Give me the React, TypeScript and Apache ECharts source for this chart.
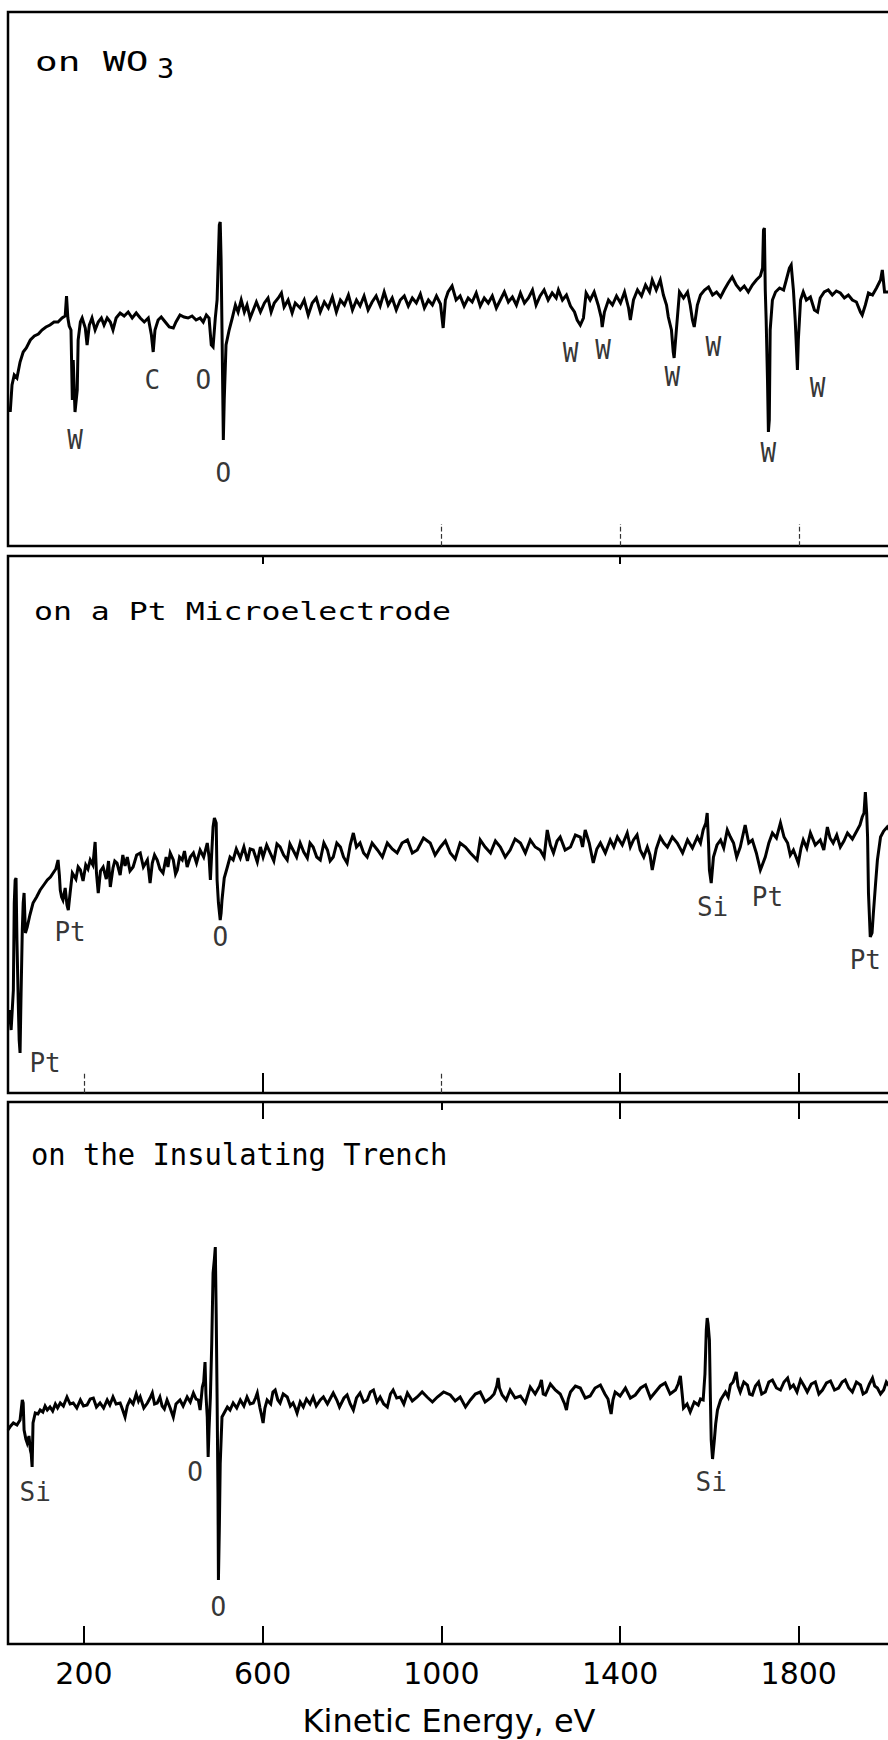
import { useEffect, useRef } from "react";
import * as echarts from "echarts";

// ---------- axis ----------
const energyTicks = [200, 600, 1000, 1400, 1800];
const energyMin = 30;
const energyMax = 2040;
const axisTitle = "Kinetic Energy, eV";

// ---------- panel titles ----------
const titleWO3 = "on WO";
const titleWO3Sub = "3";
const titlePt = "on a Pt Microelectrode";
const titleTrench = "on the Insulating Trench";

// ---------- spectra: [kinetic energy (eV), dN/dE (arb. units)] ----------
const wo3Spectrum: [number, number][] = [
  [35,134],[39,161],[44,171],[50,168],[57,184],[64,194],[71,198],[80,206],[89,210],[98,212],[106,216],[115,219],[124,221],[133,224],[142,224],[151,228],[158,230],[161,250],[164,228],[167,220],[171,216],[174,146],[176,186],[180,134],[185,156],[187,206],[192,224],[196,228],[203,218],[207,201],[212,221],[218,228],[225,216],[232,224],[239,228],[245,221],[252,228],[259,224],[265,216],[272,228],[281,233],[290,230],[299,234],[308,228],[317,233],[326,228],[335,224],[344,228],[351,211],[355,194],[359,216],[366,226],[373,229],[382,224],[391,219],[400,218],[406,224],[415,231],[424,229],[433,228],[442,230],[451,226],[460,228],[467,224],[474,231],[480,228],[485,201],[489,199],[494,228],[498,246],[503,321],[505,324],[507,286],[509,216],[512,106],[514,146],[518,201],[525,216],[532,228],[539,241],[545,234],[552,246],[559,234],[565,241],[572,228],[579,236],[586,244],[595,234],[604,243],[612,248],[619,234],[626,243],[635,248],[642,253],[648,239],[657,246],[666,233],[673,243],[684,238],[693,246],[702,231],[711,243],[720,248],[729,234],[738,244],[747,238],[756,249],[765,234],[774,246],[783,241],[792,251],[801,236],[810,246],[818,240],[827,250],[836,236],[845,244],[854,250],[863,240],[872,254],[881,241],[890,248],[899,236],[908,246],[917,250],[926,240],[935,248],[944,243],[953,252],[962,238],[971,246],[980,241],[989,250],[998,242],[1004,218],[1009,246],[1015,254],[1024,260],[1033,246],[1042,250],[1051,240],[1060,248],[1069,244],[1078,253],[1087,240],[1096,248],[1105,243],[1114,250],[1123,238],[1132,246],[1141,254],[1150,244],[1159,249],[1168,241],[1177,253],[1186,243],[1195,248],[1204,256],[1212,241],[1221,250],[1230,256],[1239,246],[1248,253],[1257,248],[1262,256],[1271,246],[1280,251],[1289,240],[1298,234],[1304,226],[1311,221],[1318,228],[1324,253],[1333,246],[1342,254],[1351,241],[1358,228],[1360,219],[1365,234],[1374,246],[1383,241],[1392,250],[1401,243],[1410,254],[1419,238],[1423,226],[1430,246],[1439,256],[1448,250],[1457,261],[1466,254],[1472,266],[1481,256],[1490,266],[1497,251],[1504,241],[1508,229],[1515,216],[1519,194],[1521,188],[1526,216],[1533,254],[1542,248],[1551,254],[1557,241],[1562,226],[1566,219],[1573,241],[1580,251],[1589,256],[1598,259],[1607,251],[1616,254],[1625,249],[1633,256],[1642,263],[1651,269],[1660,261],[1669,256],[1678,260],[1687,254],[1696,261],[1705,266],[1714,270],[1719,278],[1721,316],[1723,318],[1725,256],[1727,226],[1730,166],[1732,114],[1734,126],[1736,216],[1741,246],[1748,254],[1757,258],[1766,256],[1772,266],[1779,278],[1783,281],[1788,256],[1792,226],[1797,176],[1799,206],[1804,246],[1810,254],[1817,246],[1826,249],[1835,236],[1842,234],[1848,248],[1857,254],[1866,256],[1875,251],[1884,255],[1893,253],[1902,248],[1911,251],[1920,246],[1929,244],[1938,234],[1942,231],[1949,241],[1956,253],[1965,251],[1974,258],[1983,266],[1987,276],[1992,254],[2001,254],[2028,256]
];

const ptSpectrum: [number, number][] = [
  [33,83],[37,63],[42,103],[44,190],[46,213],[48,215],[50,153],[53,90],[55,53],[57,40],[59,93],[62,163],[64,190],[66,200],[69,160],[73,166],[79,178],[86,190],[94,196],[102,203],[110,208],[118,213],[125,216],[131,220],[137,224],[142,233],[145,218],[147,203],[150,196],[153,193],[158,205],[162,188],[165,183],[169,200],[174,220],[182,214],[187,226],[192,223],[198,212],[204,228],[209,224],[214,233],[220,228],[225,251],[228,220],[232,200],[237,222],[243,226],[250,214],[255,232],[259,206],[265,225],[269,232],[274,230],[281,218],[287,238],[292,227],[297,236],[303,222],[310,226],[318,238],[326,240],[333,226],[342,233],[345,222],[348,210],[353,230],[358,238],[364,233],[370,224],[377,220],[384,236],[388,226],[393,240],[400,233],[405,219],[409,223],[414,236],[420,233],[425,242],[431,226],[438,236],[445,240],[452,230],[460,243],[468,236],[476,250],[480,236],[483,213],[486,240],[489,266],[492,275],[496,270],[498,213],[501,190],[505,173],[507,180],[509,193],[514,215],
  [521,226],[527,236],[534,233],[541,244],[550,235],[558,246],[566,232],[572,244],[579,243],[588,231],[595,246],[601,236],[609,248],[617,240],[625,232],[632,249],[639,246],[647,238],[655,233],[661,249],[668,243],[676,236],[684,250],[692,241],[700,235],[706,250],[713,246],[721,236],[729,233],[737,250],[745,243],[751,232],[758,236],[766,250],[774,246],[781,236],[789,230],[796,248],[803,260],[810,246],[818,250],[826,240],[834,236],[845,250],[857,243],[868,236],[879,250],[890,244],[901,240],[912,250],[924,253],[935,240],[946,243],[960,255],[975,250],[986,238],[998,246],[1009,252],[1020,240],[1031,234],[1042,250],[1054,246],[1065,240],[1080,233],[1087,253],[1098,246],[1110,240],[1121,252],[1132,246],[1143,236],[1154,243],[1165,254],[1177,250],[1188,240],[1199,253],[1210,246],[1221,243],[1230,236],[1237,263],[1244,248],[1251,240],[1259,252],[1266,256],[1277,243],[1289,246],[1300,258],[1311,256],[1316,246],[1322,263],[1331,250],[1340,230],[1348,244],[1356,250],[1367,240],[1378,253],[1386,246],[1394,256],[1405,248],[1416,260],[1423,246],[1430,253],[1438,258],[1445,243],[1453,236],[1461,246],[1467,238],[1472,223],[1481,244],[1490,256],[1498,250],[1506,246],[1517,256],[1528,250],[1540,240],[1551,253],[1562,245],[1573,256],[1580,250],[1586,263],[1592,270],[1595,280],[1598,250],[1600,223],[1604,210],[1609,236],[1617,248],[1625,253],[1632,245],[1640,263],[1647,256],[1654,250],[1661,236],[1669,246],[1675,258],[1680,268],[1688,250],[1696,253],[1705,240],[1714,223],[1720,230],[1725,236],[1733,250],[1741,260],[1750,255],[1759,270],[1767,256],[1775,250],[1781,238],[1788,243],[1794,236],[1799,230],[1805,245],[1810,253],[1818,245],[1826,260],[1837,248],[1848,253],[1856,243],[1864,266],[1870,255],[1877,250],[1885,258],[1893,246],[1901,252],[1909,260],[1920,254],[1931,263],[1937,268],[1942,276],[1946,280],[1949,301],[1952,280],[1954,256],[1956,200],[1960,156],[1964,160],[1967,180],[1972,210],[1976,233],[1983,256],[1990,262],[1998,266],[2010,258],[2028,258]
];

const trenchSpectrum: [number, number][] = [
  [30,214],[36,218],[42,221],[50,219],[57,224],[60,236],[62,244],[64,241],[66,214],[70,205],[73,201],[77,208],[80,194],[82,190],[84,177],[86,221],[91,231],[97,230],[102,234],[108,232],[113,238],[118,234],[124,237],[130,233],[136,240],[141,236],[147,241],[154,238],[162,247],[169,240],[176,241],[184,236],[192,244],[199,238],[207,239],[214,245],[221,246],[228,237],[236,241],[244,236],[252,244],[258,239],[265,247],[272,240],[281,241],[286,235],[292,227],[297,238],[303,244],[310,240],[317,250],[322,243],[326,247],[334,236],[342,241],[348,246],[353,251],[358,240],[364,241],[370,247],[375,238],[380,235],[386,244],[393,236],[400,227],[406,240],[415,244],[422,238],[431,247],[438,242],[445,251],[451,245],[456,244],[460,234],[465,257],[468,262],[471,282],[473,250],[476,227],[478,187],[480,215],[483,247],[486,300],[489,371],[492,385],[494,397],[496,330],[498,247],[500,150],[501,64],[503,114],[505,180],[509,227],[515,232],[521,237],[527,234],[534,241],[542,236],[550,244],[558,238],[565,247],[572,240],[579,241],[584,246],[588,251],[594,236],[597,230],[601,221],[605,236],[610,244],[618,240],[623,252],[628,254],[634,244],[639,241],[646,250],[655,247],[662,238],[668,241],[673,236],[677,231],[684,242],[691,237],[698,245],[706,240],[713,247],[720,238],[729,244],[736,247],[745,240],[752,246],[758,251],[766,244],[772,237],[782,246],[789,249],[796,240],[803,234],[810,246],[818,251],[826,242],[834,244],[841,252],[848,254],[856,242],[863,247],[871,240],[879,237],[886,250],[892,254],[900,246],[908,247],[916,240],[924,251],[935,243],[946,247],[957,252],[968,247],[980,242],[991,247],[1005,252],[1020,249],[1031,243],[1042,247],[1054,237],[1065,244],[1076,250],[1087,252],[1098,242],[1110,246],[1118,250],[1124,258],[1127,266],[1130,256],[1136,249],[1145,244],[1154,254],[1165,246],[1177,248],[1188,241],[1199,257],[1210,250],[1220,258],[1224,264],[1228,250],[1233,249],[1244,260],[1255,254],[1266,250],[1276,240],[1280,234],[1284,245],[1289,252],[1300,258],[1311,256],[1322,246],[1333,248],[1344,256],[1356,259],[1366,250],[1373,245],[1377,236],[1380,230],[1384,244],[1389,252],[1400,248],[1412,256],[1423,246],[1434,249],[1446,256],[1457,259],[1468,246],[1479,252],[1490,258],[1501,261],[1512,250],[1524,254],[1530,260],[1535,268],[1539,250],[1542,236],[1550,240],[1557,232],[1566,242],[1575,239],[1580,245],[1586,244],[1590,270],[1593,314],[1595,326],[1597,320],[1600,304],[1602,250],[1604,204],[1607,185],[1611,204],[1614,220],[1618,234],[1625,244],[1636,252],[1642,247],[1647,259],[1653,262],[1660,272],[1664,258],[1669,252],[1677,262],[1685,259],[1690,250],[1696,249],[1703,258],[1710,262],[1717,250],[1725,252],[1733,262],[1741,264],[1750,256],[1759,254],[1767,262],[1775,266],[1781,256],[1788,259],[1796,252],[1804,264],[1812,258],[1819,252],[1828,260],[1837,262],[1845,250],[1853,254],[1862,261],[1871,263],[1880,254],[1889,256],[1897,262],[1904,264],[1912,256],[1920,252],[1929,262],[1938,259],[1944,250],[1951,252],[1958,260],[1965,266],[1970,258],[1976,256],[1983,250],[1990,254],[1996,262],[2001,259],[2028,259]
];

// ---------- peak labels: [energy, level, element] ----------
const wo3Labels: [number, number, string][] = [
  [180,106,"W"],[353,166,"C"],[467,166,"O"],[512,73,"O"],[1289,193,"W"],[1362,196,"W"],[1517,169,"W"],[1609,199,"W"],[1732,93,"W"],[1842,158,"W"]
];
const ptLabels: [number, number, string][] = [
  [113,30,"Pt"],[169,161,"Pt"],[505,156,"O"],[1607,186,"Si"],[1730,196,"Pt"],[1949,133,"Pt"]
];
const trenchLabels: [number, number, string][] = [
  [91,152,"Si"],[449,172,"O"],[501,37,"O"],[1604,162,"Si"]
];

// ---------- layout ----------
const PAGE_W = 888;
const PAGE_H = 1740;
const GRID_LEFT = 8;
const GRID_WIDTH = 898;
const panels = [
  { top: 12, height: 534 },
  { top: 556, height: 537 },
  { top: 1102, height: 542 },
];
// extra tick-only overlays: [panel, position, values, length, dashed]
const tickOverlays: [number, string, number[], number, boolean][] = [
  [1, "bottom", [200, 1000], 20, true],
  [1, "top", [600, 1400], 8, false],
  [2, "top", [600, 1400, 1800], 17, false],
  [2, "top", [1000], 8, false],
];
const MONO = "'DejaVu Sans Mono', monospace";
const SANS = "'DejaVu Sans', sans-serif";

function tickAxis(gridIndex: number, position: string, values: number[], length: number, dashed: boolean, extra: any = {}) {
  return {
    type: "value",
    gridIndex,
    position,
    min: energyMin,
    max: energyMax,
    axisLine: { show: false, onZero: false },
    splitLine: { show: false },
    axisLabel: { show: false },
    axisTick: {
      show: true,
      inside: true,
      length,
      customValues: values,
      lineStyle: { color: dashed ? "#333" : "#000", width: dashed ? 1.2 : 2, type: dashed ? "dashed" : "solid" },
    },
    ...extra,
  };
}

function labelSeries(xi: number, yi: number, labels: [number, number, string][]) {
  return {
    type: "scatter",
    xAxisIndex: xi,
    yAxisIndex: yi,
    symbolSize: 1,
    itemStyle: { color: "rgba(0,0,0,0)" },
    silent: true,
    data: labels.map((l) => ({ value: [l[0], l[1]], name: l[2] })),
    label: {
      show: true,
      position: "inside",
      formatter: "{b}",
      fontSize: 26,
      fontFamily: MONO,
      color: "#000",
    },
    z: 5,
  };
}

function lineSeries(xi: number, yi: number, data: [number, number][]) {
  return {
    type: "line",
    xAxisIndex: xi,
    yAxisIndex: yi,
    data,
    symbol: "none",
    showSymbol: false,
    silent: true,
    lineStyle: { color: "#000", width: 3, join: "miter" },
  };
}

export default function App() {
  const ref = useRef<HTMLDivElement>(null);

  useEffect(() => {
    if (!ref.current) return;
    const chart = echarts.init(ref.current, undefined, { renderer: "svg" });

    const mainGrids = panels.map((p) => ({
      left: GRID_LEFT,
      width: GRID_WIDTH,
      top: p.top,
      height: p.height,
      show: true,
      borderColor: "#000",
      borderWidth: 2.5,
      backgroundColor: "transparent",
      outerBoundsMode: "none",
      containLabel: false,
    }));
    const overlayGrids = tickOverlays.map((t) => ({
      left: GRID_LEFT,
      width: GRID_WIDTH,
      top: panels[t[0]].top,
      height: panels[t[0]].height,
      show: false,
      outerBoundsMode: "none",
      containLabel: false,
    }));

    const xAxes: any[] = [
      tickAxis(0, "bottom", [1000, 1400, 1800], 22, true),
      tickAxis(1, "bottom", [600, 1400, 1800], 20, false),
      tickAxis(2, "bottom", energyTicks, 18, false, {
        axisLabel: {
          show: true,
          customValues: energyTicks,
          formatter: (v: number) => String(v),
          fontSize: 30,
          fontFamily: SANS,
          color: "#000",
          margin: 14,
        },
        name: axisTitle,
        nameLocation: "middle",
        nameGap: 61,
        nameTextStyle: { fontSize: 32, fontFamily: SANS, color: "#000", padding: [0, 16, 0, 0] },
      }),
      ...tickOverlays.map((t, i) => tickAxis(3 + i, t[1], t[2], t[3], t[4])),
    ];

    const yAxes: any[] = [
      ...panels.map((p, i) => ({ type: "value", gridIndex: i, min: 0, max: p.height, show: false })),
      ...tickOverlays.map((t, i) => ({ type: "value", gridIndex: 3 + i, min: 0, max: panels[t[0]].height, show: false })),
    ];

    const option: any = {
      animation: false,
      backgroundColor: "#fff",
      grid: [...mainGrids, ...overlayGrids],
      xAxis: xAxes,
      yAxis: yAxes,
      series: [
        lineSeries(0, 0, wo3Spectrum),
        lineSeries(1, 1, ptSpectrum),
        lineSeries(2, 2, trenchSpectrum),
        labelSeries(0, 0, wo3Labels),
        labelSeries(1, 1, ptLabels),
        labelSeries(2, 2, trenchLabels),
      ],
      graphic: [
        {
          type: "text",
          x: 35,
          y: 62,
          scaleX: 1.45,
          silent: true,
          style: { text: titleWO3, fontSize: 26, fontFamily: MONO, fill: "#000", align: "left", verticalAlign: "middle" },
        },
        {
          type: "text",
          x: 157,
          y: 69,
          scaleX: 1.1,
          silent: true,
          style: { text: titleWO3Sub, fontSize: 26, fontFamily: MONO, fill: "#000", align: "left", verticalAlign: "middle" },
        },
        {
          type: "text",
          x: 34,
          y: 612,
          scaleX: 1.26,
          silent: true,
          style: { text: titlePt, fontSize: 25, fontFamily: MONO, fill: "#000", align: "left", verticalAlign: "middle" },
        },
        {
          type: "text",
          x: 31,
          y: 1154,
          scaleX: 0.93,
          silent: true,
          style: { text: titleTrench, fontSize: 31, fontFamily: MONO, fill: "#000", align: "left", verticalAlign: "middle" },
        },
      ],
    };

    chart.setOption(option);
    return () => chart.dispose();
  }, []);

  return (
    <div
      ref={ref}
      style={{
        position: "absolute",
        left: 0,
        top: 0,
        width: PAGE_W,
        height: PAGE_H,
        overflow: "hidden",
        background: "#fff",
      }}
    />
  );
}
